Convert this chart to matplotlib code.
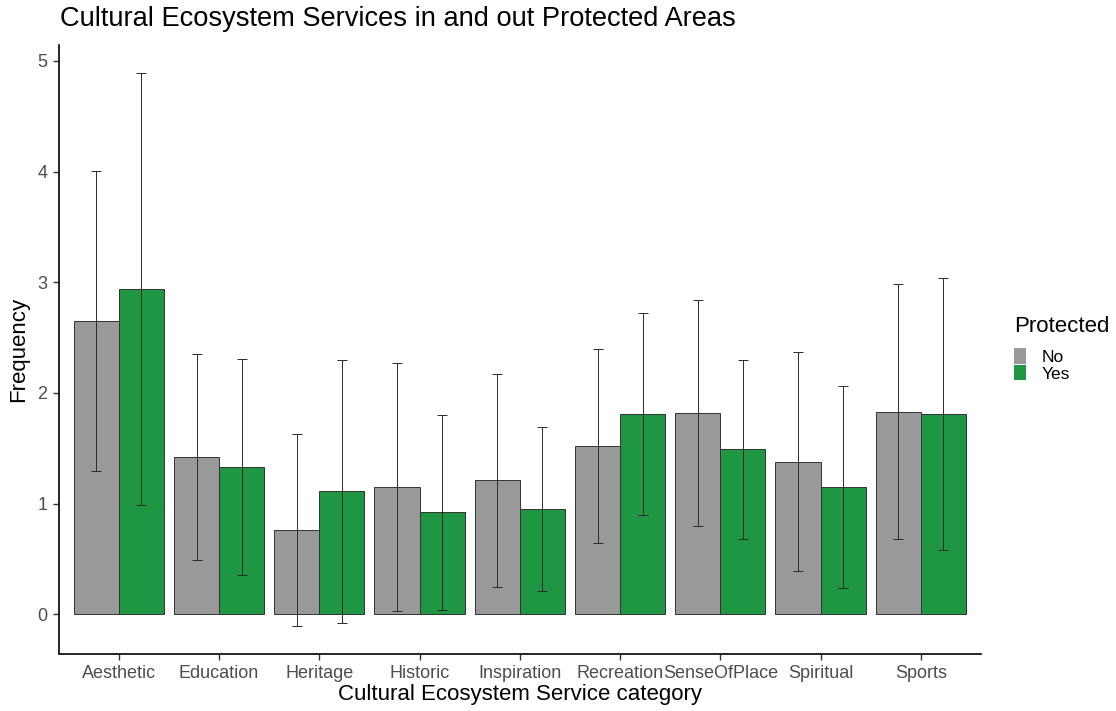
import numpy as np
import matplotlib
matplotlib.use("Agg")
import matplotlib.pyplot as plt
from matplotlib.patches import Patch

plt.rcParams['font.family'] = ['Liberation Sans', 'DejaVu Sans']

categories = ["Aesthetic", "Education", "Heritage", "Historic", "Inspiration",
              "Recreation", "SenseOfPlace", "Spiritual", "Sports"]
groups = ["No", "Yes"]
mean_no = [2.65, 1.42, 0.76, 1.15, 1.21, 1.52, 1.82, 1.38, 1.83]
mean_yes = [2.94, 1.33, 1.11, 0.92, 0.95, 1.81, 1.49, 1.15, 1.81]
sd_no = [1.36, 0.93, 0.87, 1.12, 0.96, 0.88, 1.02, 0.99, 1.15]
sd_yes = [1.95, 0.98, 1.19, 0.88, 0.74, 0.91, 0.81, 0.91, 1.23]
colors = {"No": "#999999", "Yes": "#1e9642"}

fig = plt.figure(figsize=(11.16, 7.11), dpi=100)
ax = fig.add_axes([58.7 / 1116, 1 - 653.5 / 711, (981 - 58.7) / 1116, (653.5 - 45.5) / 711])

x = np.arange(1, len(categories) + 1)
width = 0.45
for i, (g, means, sds) in enumerate([("No", mean_no, sd_no), ("Yes", mean_yes, sd_yes)]):
    pos = x + (i - 0.5) * width
    ax.bar(pos, means, width=width, color=colors[g], edgecolor="#333333",
           linewidth=0.7, zorder=2)
    ax.errorbar(pos, means, yerr=sds, fmt="none", ecolor="#2b2b2b",
                elinewidth=0.7, capsize=3.6, capthick=0.7, zorder=3)

ax.set_xlim(0.4, len(categories) + 0.6)
ax.set_ylim(-0.355, 5.14)
ax.set_xticks(x)
ax.set_xticklabels(categories)
ax.set_yticks([0, 1, 2, 3, 4, 5])

for side in ("top", "right"):
    ax.spines[side].set_visible(False)
for side in ("left", "bottom"):
    ax.spines[side].set_linewidth(1.2)
    ax.spines[side].set_color("black")

ax.tick_params(axis="both", colors="#333333", labelcolor="#4d4d4d",
               labelsize=13, length=4, width=1.0, pad=4)

ax.set_xlabel("Cultural Ecosystem Service category", fontsize=16, labelpad=2)
ax.set_ylabel("Frequency", fontsize=16, labelpad=6)
fig.text(60 / 1116, 1 - 19 / 711, "Cultural Ecosystem Services in and out Protected Areas",
         fontsize=19.6, ha="left", va="center")

handles = [Patch(facecolor=colors[g], edgecolor="none") for g in groups]
leg = fig.legend(handles, groups, title="Protected", loc="upper left",
                 bbox_to_anchor=(1014 / 1116, 1 - 316 / 711), frameon=False,
                 fontsize=12.5, title_fontsize=16, handlelength=0.7,
                 handleheight=1.0, labelspacing=0.0, handletextpad=0.9,
                 borderaxespad=0, borderpad=0)
leg._legend_box.align = "left"
leg._legend_box.sep = 8

fig.savefig("out.png", dpi=100, facecolor="white")
